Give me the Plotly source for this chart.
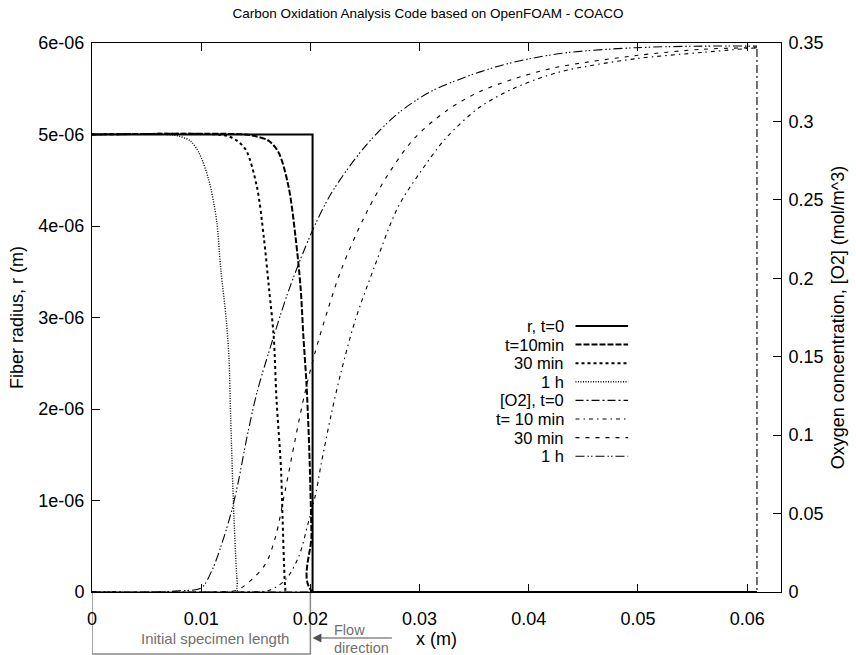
import plotly.graph_objects as go

# ---------------- data ----------------
# Fiber radius r (m), left axis
r0_x = [0, 0.0202, 0.0202, 0.0609]
r0_y = [5.0e-6, 5.0e-6, 0.0, 0.0]

r10_x = [0, 0.0140, 0.0150, 0.0162, 0.0171, 0.0180, 0.01864, 0.0191, 0.01936, 0.01964, 0.0199, 0.0201, 0.0202, 0.0609]
r10_y = [5.0e-6, 5.0e-6, 4.98e-6, 4.93e-6, 4.80e-6, 4.43e-6, 3.88e-6, 3.33e-6, 2.79e-6, 2.28e-6, 1.55e-6, 0.64e-6, 0.0, 0.0]

r30_x = [0, 0.0115, 0.0125, 0.0133, 0.0141, 0.0151, 0.01573, 0.0162, 0.01664, 0.0169, 0.0173, 0.01745, 0.0176, 0.0177, 0.0178, 0.0609]
r30_y = [5.0e-6, 5.0e-6, 4.98e-6, 4.93e-6, 4.83e-6, 4.43e-6, 3.88e-6, 3.33e-6, 2.79e-6, 2.10e-6, 1.37e-6, 0.82e-6, 0.27e-6, 0.05e-6, 0.0, 0.0]

r60_x = [0, 0.0070, 0.0080, 0.0090, 0.0098, 0.0107, 0.0114, 0.0118, 0.0123, 0.01255, 0.0127, 0.0130, 0.0133, 0.0134, 0.0609]
r60_y = [5.0e-6, 5.0e-6, 4.98e-6, 4.93e-6, 4.80e-6, 4.50e-6, 4.07e-6, 3.52e-6, 2.97e-6, 2.54e-6, 1.91e-6, 0.82e-6, 0.10e-6, 0.0, 0.0]

# Oxygen concentration [O2] (mol/m^3), right axis
o0_x = [0, 0.0609, 0.0609]
o0_y = [0.0, 0.0, 0.347]

o10_x = [0, 0.0140, 0.0162, 0.0177, 0.0189, 0.0198, 0.0205, 0.0210, 0.0219, 0.0228, 0.0241, 0.0259, 0.0280, 0.0301, 0.0325, 0.0355, 0.0386, 0.0416, 0.0437, 0.0498, 0.0559, 0.0609]
o10_y = [0.0, 0.0, 0.001, 0.0077, 0.022, 0.044, 0.063, 0.082, 0.113, 0.140, 0.173, 0.208, 0.245, 0.268, 0.290, 0.309, 0.321, 0.329, 0.333, 0.340, 0.344, 0.347]

o30_x = [0, 0.0110, 0.0132, 0.0146, 0.0159, 0.0168, 0.0177, 0.0186, 0.0195, 0.0204, 0.0216, 0.0228, 0.0250, 0.0271, 0.0295, 0.0325, 0.0355, 0.0386, 0.0416, 0.0437, 0.0498, 0.0559, 0.0609]
o30_y = [0.0, 0.0, 0.001, 0.0077, 0.018, 0.035, 0.065, 0.097, 0.127, 0.152, 0.180, 0.205, 0.240, 0.266, 0.289, 0.307, 0.319, 0.327, 0.333, 0.336, 0.342, 0.346, 0.347]

o60_x = [0, 0.0060, 0.0080, 0.0100, 0.0110, 0.0119, 0.0128, 0.01345, 0.0142, 0.0151, 0.0162, 0.0180, 0.0201, 0.0219, 0.0250, 0.0280, 0.0310, 0.0341, 0.0371, 0.0401, 0.0437, 0.0498, 0.0559, 0.0609]
o60_y = [0.0, 0.0, 0.0008, 0.0026, 0.014, 0.031, 0.052, 0.072, 0.099, 0.127, 0.153, 0.192, 0.229, 0.254, 0.284, 0.305, 0.319, 0.328, 0.335, 0.340, 0.344, 0.347, 0.348, 0.348]

legend_labels = ["r, t=0", "t=10min", "30 min", "1 h", "[O2], t=0", "t= 10 min", "30 min", "1 h"]

x_ticks = [0, 0.01, 0.02, 0.03, 0.04, 0.05, 0.06]
x_ticklabels = ["0", "0.01", "0.02", "0.03", "0.04", "0.05", "0.06"]
y_ticks = [0, 1e-6, 2e-6, 3e-6, 4e-6, 5e-6, 6e-6]
y_ticklabels = ["0", "1e-06", "2e-06", "3e-06", "4e-06", "5e-06", "6e-06"]
y2_ticks = [0, 0.05, 0.1, 0.15, 0.2, 0.25, 0.3, 0.35]
y2_ticklabels = ["0", "0.05", "0.1", "0.15", "0.2", "0.25", "0.3", "0.35"]

# ---------------- styles ----------------
FONT = "Liberation Sans, Arial, Helvetica, sans-serif"
FS = 18
styles = [
    dict(width=2.0, dash="solid", shape="linear"),
    dict(width=2.0, dash="6px,2px", shape="spline"),
    dict(width=2.0, dash="3px,3px", shape="spline"),
    dict(width=1.4, dash="1px,1.5px", shape="spline"),
    dict(width=1.1, dash="8px,3px,2px,3px", shape="linear"),
    dict(width=1.1, dash="4px,4px,1.5px,4px", shape="spline"),
    dict(width=1.1, dash="4px,6px", shape="spline"),
    dict(width=1.1, dash="9px,3px,1.5px,2px,1.5px,3px", shape="spline"),
]

series = [
    (r0_x, r0_y, "y"), (r10_x, r10_y, "y"), (r30_x, r30_y, "y"), (r60_x, r60_y, "y"),
    (o0_x, o0_y, "y2"), (o10_x, o10_y, "y2"), (o30_x, o30_y, "y2"), (o60_x, o60_y, "y2"),
]

fig = go.Figure()
for (xs, ys, ax), lab, st in zip(series, legend_labels, styles):
    line = dict(color="black", width=st["width"], dash=st["dash"], shape=st["shape"])
    if st["shape"] == "spline":
        line["smoothing"] = 0.9
    fig.add_trace(go.Scatter(x=xs, y=ys, yaxis=ax, mode="lines", name=lab,
                             showlegend=False, line=line))

# ---------------- layout ----------------
L, R, T, B = 92, 70, 43, 63
W, H = 856, 655
pw, ph = W - L - R, H - T - B

def px_to_paper(px, py):
    return (px - L) / pw, (H - B - py) / ph

axis_common = dict(showline=True, linecolor="black", linewidth=1, ticks="inside",
                   ticklen=8, tickcolor="black", showgrid=False, zeroline=False,
                   tickfont=dict(size=FS, family=FONT))

fig.update_layout(
    width=W, height=H,
    margin=dict(l=L, r=R, t=T, b=B, pad=0),
    plot_bgcolor="white", paper_bgcolor="white",
    font=dict(family=FONT, size=FS, color="black"),
    title=dict(text="Carbon Oxidation Analysis Code based on OpenFOAM - COACO",
               x=0.5, xanchor="center", y=1 - 13 / H, yanchor="middle",
               font=dict(size=13.5, family=FONT)),
    xaxis=dict(range=[0, 0.0631], tickvals=x_ticks, ticktext=x_ticklabels,
               mirror="ticks", ticklabelstandoff=10,
               title=dict(text="x (m)", standoff=2, font=dict(size=FS)), **axis_common),
    yaxis=dict(range=[0, 6e-6], tickvals=y_ticks, ticktext=y_ticklabels,
               ticklabelstandoff=3,
               title=dict(text="Fiber radius, r (m)", standoff=10, font=dict(size=FS)), **axis_common),
    yaxis2=dict(range=[0, 0.35], tickvals=y2_ticks, ticktext=y2_ticklabels,
                overlaying="y", side="right", ticklabelstandoff=3,
                title=dict(text="Oxygen concentration, [O2] (mol/m^3)", standoff=8, font=dict(size=FS)),
                **axis_common),
)

# ---------------- manual gnuplot-style key (text left, sample right) ----------------
LFS = 16.5
row0, drow = 326, 18.6
for i, (lab, st) in enumerate(zip(legend_labels, styles)):
    py = row0 + i * drow
    tx, ty = px_to_paper(568, py)
    fig.add_annotation(xref="paper", yref="paper", x=tx, y=ty, text=lab, showarrow=False,
                       xanchor="right", yanchor="middle", borderpad=0,
                       font=dict(size=LFS, family=FONT))
    x0, y0 = px_to_paper(579, py)
    x1, _ = px_to_paper(632, py)
    fig.add_shape(type="line", xref="paper", yref="paper", x0=x0, x1=x1, y0=y0, y1=y0,
                  line=dict(color="black", width=st["width"], dash=st["dash"]))

# ---------------- specimen box and flow arrow under the axis ----------------
GREY = "#888888"
TGREY = "#707070"
_, yb = px_to_paper(0, 654)
fig.add_shape(type="rect", xref="x", yref="paper", x0=0, x1=0.02, y0=0, y1=yb,
              line=dict(color=GREY, width=1.5), layer="below")
_, yt = px_to_paper(0, 638)
fig.add_annotation(xref="x", yref="paper", x=0.01127, y=yt, text="Initial specimen length",
                   showarrow=False, yanchor="middle", font=dict(size=15, color=TGREY, family=FONT))
_, ya = px_to_paper(0, 638)
fig.add_annotation(xref="x", yref="paper", x=0.0202, y=ya, text="", showarrow=True,
                   axref="x", ax=0.0276, ayref="pixel", ay=0,
                   arrowhead=2, arrowsize=1.6, arrowwidth=1.1, arrowcolor="#505050")
_, yf = px_to_paper(0, 630)
_, yd = px_to_paper(0, 648)
xf = (335 - L) / 11000.0
fig.add_annotation(xref="x", yref="paper", x=xf, y=yf, text="Flow", showarrow=False,
                   xanchor="left", yanchor="middle", borderpad=0,
                   font=dict(size=14.5, color=TGREY, family=FONT))
fig.add_annotation(xref="x", yref="paper", x=xf, y=yd, text="direction", showarrow=False,
                   xanchor="left", yanchor="middle", borderpad=0,
                   font=dict(size=14.5, color=TGREY, family=FONT))

fig.write_html("out.html")
